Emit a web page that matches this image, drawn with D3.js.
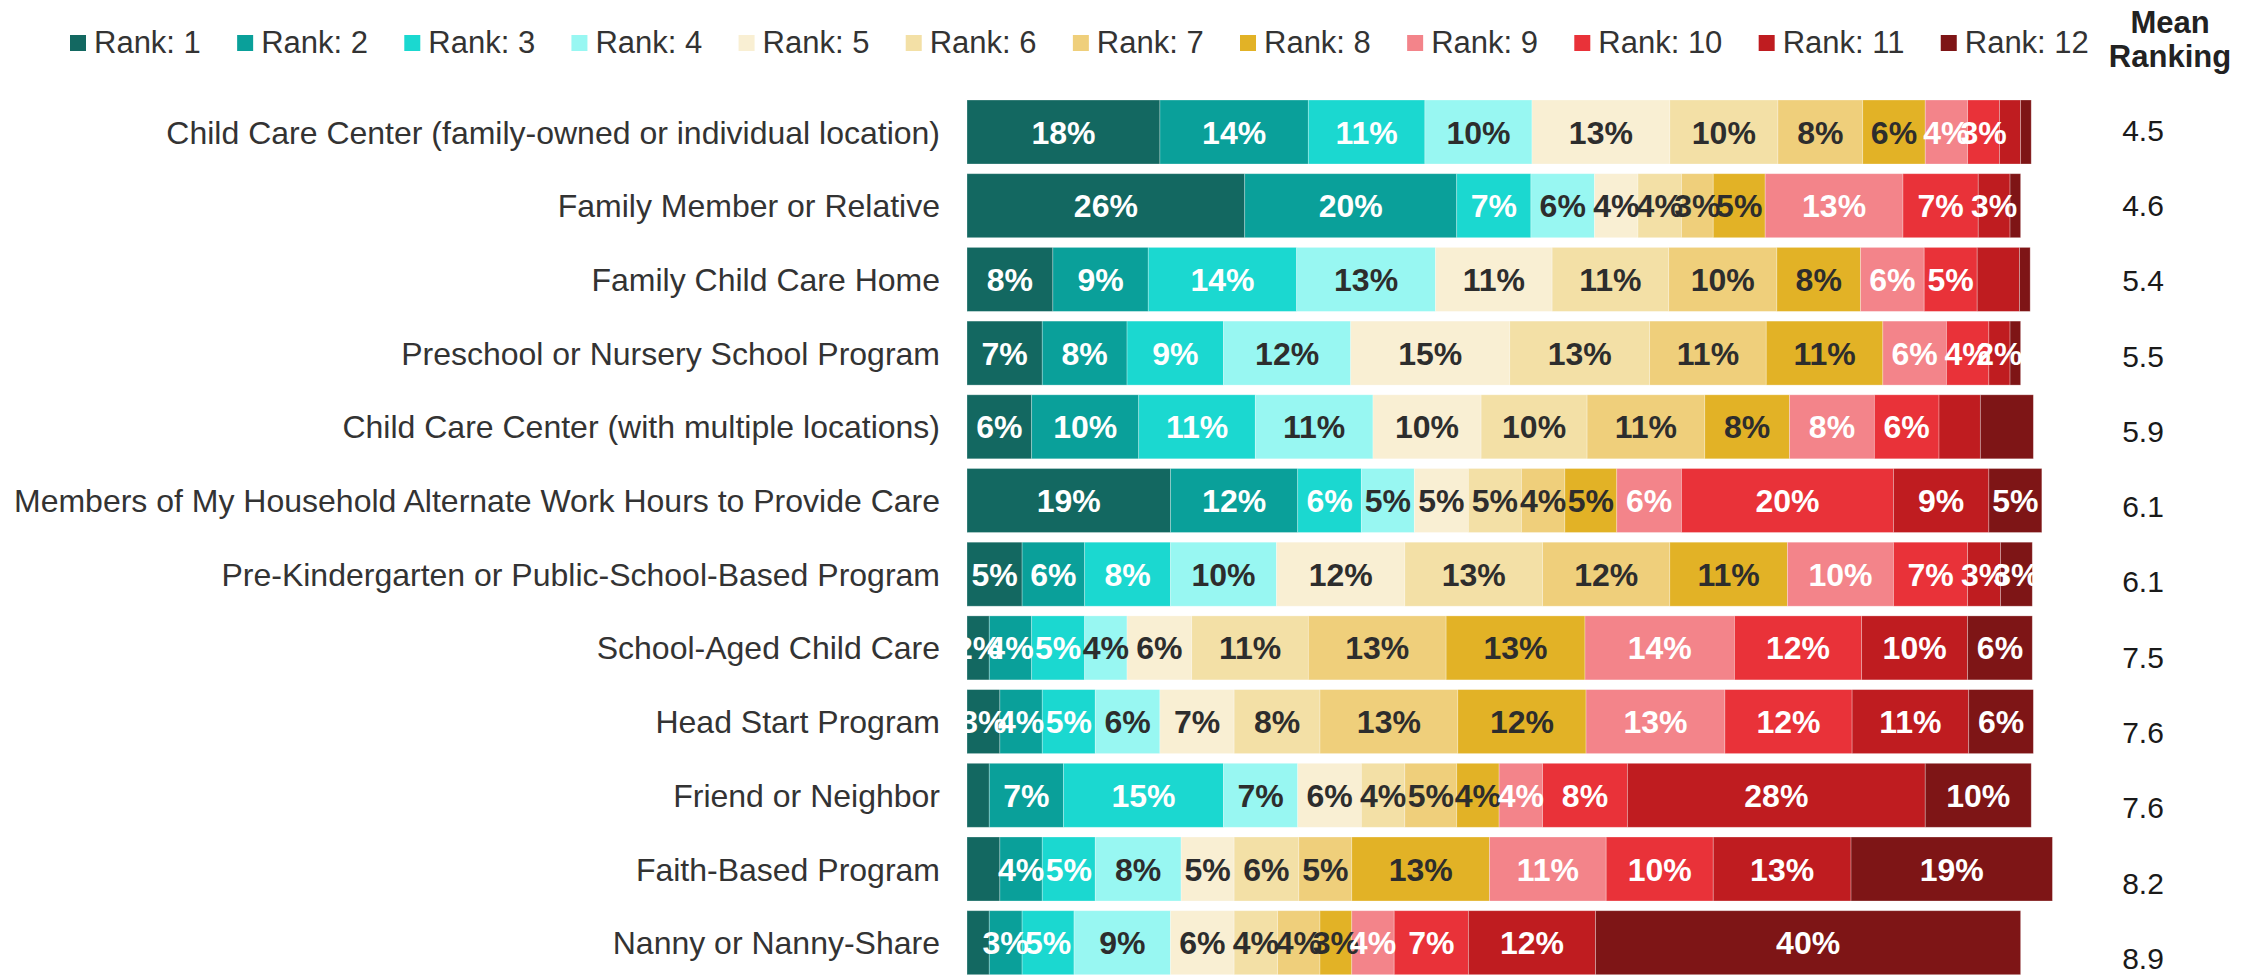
<!DOCTYPE html>
<html>
<head>
<meta charset="utf-8">
<script src="https://cdn.jsdelivr.net/npm/d3@7"></script>
<style>
  html, body { margin: 0; padding: 0; background: #fff; }
  svg { display: block; font-family: "Liberation Sans", Arial, Helvetica, sans-serif; }
</style>
</head>
<body>
<svg id="chart" width="2257" height="975"></svg>
<script>
// ---------------- DATA ----------------
const categories = [
  "Child Care Center (family-owned or individual location)",
  "Family Member or Relative",
  "Family Child Care Home",
  "Preschool or Nursery School Program",
  "Child Care Center (with multiple locations)",
  "Members of My Household Alternate Work Hours to Provide Care",
  "Pre-Kindergarten or Public-School-Based Program",
  "School-Aged Child Care",
  "Head Start Program",
  "Friend or Neighbor",
  "Faith-Based Program",
  "Nanny or Nanny-Share"
];

const rankNames = ["Rank: 1","Rank: 2","Rank: 3","Rank: 4","Rank: 5","Rank: 6",
                   "Rank: 7","Rank: 8","Rank: 9","Rank: 10","Rank: 11","Rank: 12"];

// share (%) of respondents giving each rank (1..12), one row per category
const shares = [
  [18.2, 14.0, 11.0, 10.1, 13.0, 10.2,  8.0,  5.9,  4.0,  3.0,  2.0,  1.0],
  [26.2, 20.0,  7.0,  6.0,  4.1,  4.1,  3.0,  4.9, 13.0,  7.1,  3.0,  1.0],
  [ 8.1,  9.0, 14.0, 13.1, 11.0, 11.0, 10.2,  7.9,  6.0,  5.0,  4.0,  1.0],
  [ 7.1,  8.0,  9.1, 12.0, 15.0, 13.2, 11.0, 11.0,  6.0,  4.0,  2.0,  1.0],
  [ 6.1, 10.1, 11.0, 11.1, 10.2, 10.0, 11.1,  8.0,  8.0,  6.1,  3.9,  5.0],
  [19.2, 12.0,  6.0,  5.0,  5.1,  5.0,  4.1,  4.9,  6.1, 20.0,  9.0,  5.0],
  [ 5.2,  5.9,  8.1, 10.0, 12.1, 13.0, 12.0, 11.1, 10.0,  7.0,  3.1,  3.0],
  [ 2.1,  4.0,  5.0,  4.0,  6.1, 11.0, 13.0, 13.1, 14.1, 12.0, 10.0,  6.1],
  [ 3.1,  4.0,  5.0,  6.1,  7.0,  8.1, 13.0, 12.1, 13.1, 12.0, 11.0,  6.1],
  [ 2.1,  7.0, 15.1,  7.0,  6.0,  4.1,  4.9,  4.0,  4.1,  8.0, 28.1, 10.0],
  [ 3.1,  4.0,  5.0,  8.1,  5.0,  6.1,  5.0, 13.0, 11.0, 10.1, 13.0, 19.0],
  [ 2.1,  3.1,  4.9,  9.1,  6.0,  4.1,  4.0,  3.0,  4.0,  7.0, 12.0, 40.1]
];

const meanRanking = [4.5, 4.6, 5.4, 5.5, 5.9, 6.1, 6.1, 7.5, 7.6, 7.6, 8.2, 8.9];

// segments whose percentage label is not shown: [categoryIndex, rankIndex]
const hiddenLabels = [[0,10],[0,11],[1,11],[2,10],[2,11],[3,11],[4,10],[4,11],[9,0],[10,0],[11,0]];

const meanHeader = ["Mean", "Ranking"];

// ---------------- STYLE ----------------
const palette = ["#136861","#0aa09a","#1bd8d0","#98f7f2","#f9efd3","#f3e0a6",
                 "#efcf7b","#e2b226","#f3848a","#e93239","#bf1c20","#7e1516"];
const darkText = [false,false,false,true,true,true,true,true,false,false,false,false];

const svg = d3.select("#chart");

const x = d3.scaleLinear().domain([0, 100]).range([967, 2027]);
const y = d3.scaleBand().domain(categories).range([95.15, 979.55])
  .paddingInner(0.1316).paddingOuter(0.0658);
const yMean = d3.scalePoint().domain(categories).range([130, 958]);
const color = d3.scaleOrdinal().domain(rankNames).range(palette);

// build stacked segments
const rows = categories.map((c, i) => {
  const o = { category: c };
  rankNames.forEach((r, j) => o[r] = shares[i][j]);
  return o;
});
const stack = d3.stack().keys(rankNames);
const series = stack(rows);

const hiddenSet = new Set(hiddenLabels.map(d => d[0] + "_" + d[1]));

// clip for labels (plot area)
svg.append("defs").append("clipPath").attr("id", "plotclip")
  .append("rect").attr("x", x(0)).attr("y", 0).attr("width", 2257 - x(0)).attr("height", 975);

// bars
const gBars = svg.append("g");
series.forEach((s, j) => {
  gBars.selectAll(null).data(s).join("rect")
    .attr("x", d => x(d[0]))
    .attr("y", d => y(d.data.category))
    .attr("width", d => x(d[1]) - x(d[0]))
    .attr("height", y.bandwidth())
    .attr("fill", color(s.key))
    .attr("stroke", "rgba(255,255,255,0.35)")
    .attr("stroke-width", 0.8);
});

// segment labels
const gLab = svg.append("g").attr("clip-path", "url(#plotclip)");
series.forEach((s, j) => {
  gLab.selectAll(null).data(s.map((d, i) => ({ d, i })).filter(o => !hiddenSet.has(o.i + "_" + j)))
    .join("text")
    .attr("x", o => (x(o.d[0]) + x(o.d[1])) / 2)
    .attr("y", o => y(o.d.data.category) + y.bandwidth() / 2)
    .attr("dy", "0.36em")
    .attr("text-anchor", "middle")
    .attr("font-size", 32)
    .attr("font-weight", "bold")
    .attr("fill", darkText[j] ? "#2d2d2d" : "#ffffff")
    .text(o => Math.round(o.d[1] - o.d[0]) + "%");
});

// category labels (axis)
const yAxis = d3.axisLeft(y).tickSize(0).tickPadding(0);
const gAxis = svg.append("g").attr("transform", `translate(940,0)`).call(yAxis);
gAxis.select(".domain").remove();
gAxis.selectAll("text")
  .attr("font-size", 32)
  .attr("font-family", '"Liberation Sans", Arial, sans-serif')
  .attr("fill", "#333333")
  .attr("dy", "0.36em");

// mean ranking column
svg.append("g").selectAll("text").data(categories).join("text")
  .attr("x", 2143)
  .attr("y", d => yMean(d))
  .attr("dy", "0.36em")
  .attr("text-anchor", "middle")
  .attr("font-size", 30)
  .attr("fill", "#1a1a1a")
  .text((d, i) => meanRanking[i].toFixed(1));

svg.append("g").selectAll("text").data(meanHeader).join("text")
  .attr("x", 2170)
  .attr("y", (d, i) => 33 + i * 34)
  .attr("text-anchor", "middle")
  .attr("font-size", 31)
  .attr("font-weight", "bold")
  .attr("fill", "#222")
  .text(d => d);

// legend
const gLeg = svg.append("g");
let lx = 70;
rankNames.forEach((r, j) => {
  gLeg.append("rect").attr("x", lx).attr("y", 35).attr("width", 16).attr("height", 16)
    .attr("fill", color(r));
  const t = gLeg.append("text").attr("x", lx + 24).attr("y", 53)
    .attr("font-size", 31).attr("fill", "#333333").text(r);
  lx += 24 + t.node().getComputedTextLength() + 36.3;
});
</script>
</body>
</html>
